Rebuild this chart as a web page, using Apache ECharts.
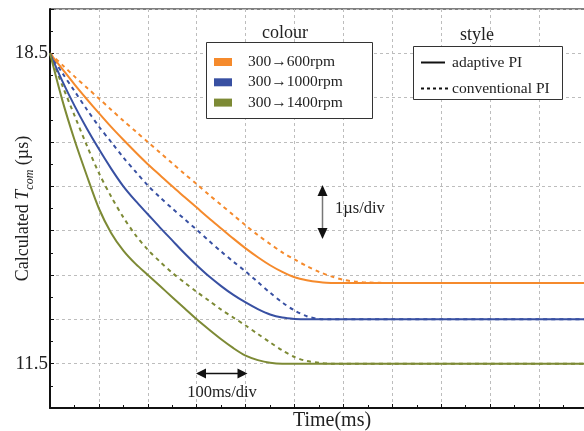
<!DOCTYPE html>
<html>
<head>
<meta charset="utf-8">
<script src="https://cdn.jsdelivr.net/npm/echarts@6/dist/echarts.min.js"></script>
<style>
  html, body { margin: 0; padding: 0; background: #fff; }
  #chart { width: 584px; height: 431px; }
</style>
</head>
<body>
<div id="chart"></div>
<script>
// Sample times (ms)
const timeMs = [0, 25, 50, 75, 100, 125, 150, 175, 200, 225, 250, 275, 300, 325, 350, 375, 400, 425, 450, 475, 500, 525, 550, 575, 600, 625, 650, 700, 800, 900, 1000, 1100];

// Calculated commutation period T_com (µs)
const adaptive600 = [18.5, 18.15, 17.8, 17.47, 17.15, 16.84, 16.55, 16.27, 16.0, 15.75, 15.5, 15.26, 15.02, 14.78, 14.55, 14.32, 14.1, 13.9, 13.72, 13.57, 13.45, 13.38, 13.34, 13.32, 13.32, 13.32, 13.32, 13.32, 13.32, 13.32, 13.32, 13.32];
const conventional600 = [18.5, 18.24, 17.98, 17.73, 17.48, 17.23, 16.98, 16.74, 16.5, 16.26, 16.02, 15.78, 15.55, 15.31, 15.08, 14.85, 14.62, 14.4, 14.2, 14.01, 13.85, 13.7, 13.57, 13.47, 13.39, 13.35, 13.33, 13.32, 13.32, 13.32, 13.32, 13.32];
const adaptive1000 = [18.5, 17.88, 17.32, 16.81, 16.34, 15.9, 15.5, 15.17, 14.87, 14.57, 14.28, 13.99, 13.72, 13.47, 13.25, 13.05, 12.88, 12.73, 12.61, 12.54, 12.51, 12.5, 12.5, 12.5, 12.5, 12.5, 12.5, 12.5, 12.5, 12.5, 12.5, 12.5];
const conventional1000 = [18.5, 18.06, 17.65, 17.24, 16.85, 16.5, 16.15, 15.83, 15.52, 15.25, 15.0, 14.76, 14.52, 14.27, 14.03, 13.8, 13.58, 13.34, 13.1, 12.88, 12.7, 12.57, 12.51, 12.5, 12.5, 12.5, 12.5, 12.5, 12.5, 12.5, 12.5, 12.5];
const adaptive1400 = [18.5, 17.45, 16.55, 15.75, 15.0, 14.45, 14.05, 13.75, 13.5, 13.25, 13.0, 12.75, 12.5, 12.27, 12.05, 11.85, 11.68, 11.58, 11.52, 11.5, 11.5, 11.5, 11.5, 11.5, 11.5, 11.5, 11.5, 11.5, 11.5, 11.5, 11.5, 11.5];
const conventional1400 = [18.5, 17.78, 17.1, 16.43, 15.8, 15.27, 14.8, 14.4, 14.07, 13.8, 13.55, 13.33, 13.12, 12.92, 12.72, 12.54, 12.36, 12.17, 11.98, 11.8, 11.65, 11.56, 11.52, 11.5, 11.5, 11.5, 11.5, 11.5, 11.5, 11.5, 11.5, 11.5];

// Only these y tick values carry a label
const yTickLabels = ['18.5', '11.5'];

const colourNames = ['300\u2192600rpm', '300\u21921000rpm', '300\u21921400rpm'];
const styleNames = ['adaptive PI', 'conventional PI'];

const ORANGE = '#f58a2c';
const BLUE = '#3850a2';
const OLIVE = '#7d8a35';
const SERIF = "'Liberation Serif', 'Times New Roman', serif";

function pairs(values) {
  return timeMs.map((t, i) => [t, values[i]]);
}

function curve(name, values, color, dashed) {
  return {
    name: name,
    type: 'line',
    data: pairs(values),
    smooth: 0.3,
    showSymbol: false,
    silent: true,
    animation: false,
    lineStyle: { color: color, width: 2, type: dashed ? [4, 4] : 'solid' },
    z: dashed ? 2 : 3
  };
}

const chart = echarts.init(document.getElementById('chart'), null, { renderer: 'canvas' });

const gridDash = { color: '#bdbdbd', width: 1, type: [3, 3] };

const option = {
  backgroundColor: '#fff',
  animation: false,
  textStyle: { fontFamily: SERIF },
  grid: {
    left: 50, top: 9, width: 538, height: 399,
    outerBoundsMode: 'none', containLabel: false,
    show: true, borderColor: '#000', borderWidth: 1, backgroundColor: 'transparent'
  },
  xAxis: {
    type: 'value', min: 0, max: 1100, interval: 100,
    name: 'Time(ms)', nameLocation: 'middle', nameGap: 3, nameMoveOverlap: false,
    nameTextStyle: { fontFamily: SERIF, fontSize: 20, color: '#222', padding: [0, 0, 0, 26] },
    axisLine: { show: true, lineStyle: { color: '#111', width: 2 } },
    axisTick: { show: true, inside: true, length: 4, lineStyle: { color: '#111', width: 1 } },
    minorTick: { show: true, splitNumber: 2, length: 3, lineStyle: { color: '#111', width: 1 } },
    axisLabel: { show: false },
    splitLine: { show: true, lineStyle: gridDash }
  },
  yAxis: {
    type: 'value', min: 10.5, max: 19.5, interval: 1,
    name: 'Calculated {i|T}{s|com}{n| (\u00b5s)}', nameLocation: 'middle', nameGap: 14, nameRotate: 90, nameMoveOverlap: false,
    nameTextStyle: {
      fontFamily: SERIF, fontSize: 18, color: '#222',
      rich: {
        i: { fontFamily: SERIF, fontSize: 18, fontStyle: 'italic', color: '#222' },
        s: { fontFamily: SERIF, fontSize: 12, fontStyle: 'italic', color: '#222', verticalAlign: 'bottom', lineHeight: 26 },
        n: { fontFamily: SERIF, fontSize: 18, color: '#222' }
      }
    },
    axisLine: { show: true, lineStyle: { color: '#111', width: 2 } },
    axisTick: { show: true, inside: true, length: 4, lineStyle: { color: '#111', width: 1 } },
    minorTick: { show: true, splitNumber: 2, length: 3, lineStyle: { color: '#111', width: 1 } },
    axisLabel: {
      show: true, margin: 2, fontFamily: SERIF, fontSize: 19, color: '#222',
      formatter: function (v) {
        const s = v.toFixed(1);
        return yTickLabels.indexOf(s) >= 0 ? s : '';
      }
    },
    splitLine: { show: true, lineStyle: gridDash }
  },
  series: [
    curve(colourNames[0] + ' ' + styleNames[1], conventional600, ORANGE, true),
    curve(colourNames[1] + ' ' + styleNames[1], conventional1000, BLUE, true),
    curve(colourNames[2] + ' ' + styleNames[1], conventional1400, OLIVE, true),
    curve(colourNames[0] + ' ' + styleNames[0], adaptive600, ORANGE, false),
    curve(colourNames[1] + ' ' + styleNames[0], adaptive1000, BLUE, false),
    curve(colourNames[2] + ' ' + styleNames[0], adaptive1400, OLIVE, false)
  ],
  graphic: []
};

// Annotation: colour key, style key and scale arrows
const txt = (x, y, s, size, align) => ({
  type: 'text', x: x, y: y, silent: true, z: 20,
  style: { text: s, fontFamily: SERIF, fontSize: size, fill: '#222', align: align || 'left', verticalAlign: 'middle' }
});

const g = [];
// colour key
g.push(txt(285, 33, 'colour', 18, 'center'));
g.push({ type: 'rect', shape: { x: 206.5, y: 42.5, width: 166, height: 76 }, style: { fill: '#fff', stroke: '#333', lineWidth: 1 }, z: 15 });
[ORANGE, BLUE, OLIVE].forEach((c, i) => {
  const cy = 62 + i * 20.3;
  g.push({ type: 'rect', shape: { x: 214, y: cy - 4, width: 18, height: 8 }, style: { fill: c }, z: 20 });
  g.push(txt(248, cy, colourNames[i], 15.5));
});
// style key
g.push(txt(477, 35, 'style', 18, 'center'));
g.push({ type: 'rect', shape: { x: 413.5, y: 46.5, width: 149, height: 53 }, style: { fill: '#fff', stroke: '#333', lineWidth: 1 }, z: 15 });
g.push({ type: 'line', shape: { x1: 421, y1: 62.5, x2: 445, y2: 62.5 }, style: { stroke: '#111', lineWidth: 2 }, z: 20 });
g.push(txt(452, 62.5, styleNames[0], 15.5));
g.push({ type: 'line', shape: { x1: 421, y1: 88.5, x2: 448, y2: 88.5 }, style: { stroke: '#111', lineWidth: 2, lineDash: [3, 3] }, z: 20 });
g.push(txt(452, 88.5, styleNames[1], 15.5));

// vertical scale arrow (1 µs per division)
g.push({ type: 'line', shape: { x1: 322.5, y1: 192, x2: 322.5, y2: 232 }, style: { stroke: '#777', lineWidth: 1.5 }, z: 20 });
g.push({ type: 'polygon', shape: { points: [[322.5, 185], [317.5, 196], [327.5, 196]] }, style: { fill: '#111' }, z: 21 });
g.push({ type: 'polygon', shape: { points: [[322.5, 239], [317.5, 228], [327.5, 228]] }, style: { fill: '#111' }, z: 21 });
g.push(txt(335, 209, '1\u00b5s/div', 16.5));

// horizontal scale arrow (100 ms per division)
g.push({ type: 'line', shape: { x1: 204, y1: 373.5, x2: 240, y2: 373.5 }, style: { stroke: '#111', lineWidth: 1.5 }, z: 20 });
g.push({ type: 'polygon', shape: { points: [[196, 373.5], [206, 368.5], [206, 378.5]] }, style: { fill: '#111' }, z: 21 });
g.push({ type: 'polygon', shape: { points: [[247.5, 373.5], [237.5, 368.5], [237.5, 378.5]] }, style: { fill: '#111' }, z: 21 });
g.push(txt(222, 393, '100ms/div', 16.5, 'center'));

option.graphic = g;
chart.setOption(option);
</script>
</body>
</html>
